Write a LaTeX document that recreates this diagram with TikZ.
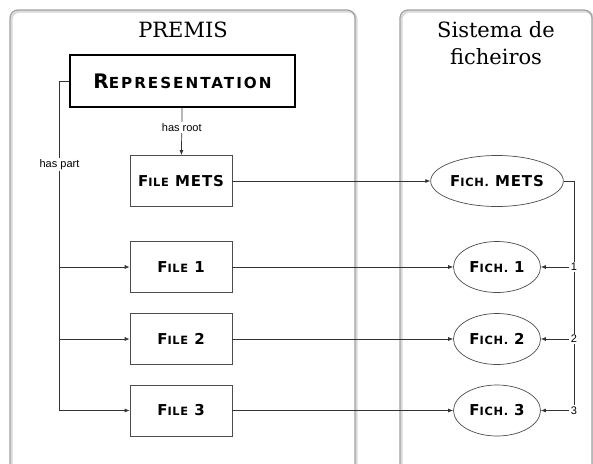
\documentclass[tikz,border=0pt]{standalone}
\usepackage{fontspec}
\usetikzlibrary{arrows.meta,shapes.geometric}
\newfontfamily\titlefont{DejaVu Serif}
\newfontfamily\capsfont[LetterSpace=6]{DejaVu Sans}
\newfontfamily\labelfont{Liberation Sans}
% first letter large, the rest as small capitals
\newcommand\capsword[2]{#1\scalebox{0.76}{#2}}
\tikzset{
% Two panels, and the boxes and ellipses inside them
panel/.style={draw=gray!75, line width=1.2pt, rounded corners=8pt},
panel shadow/.style={draw=gray!30, line width=2.2pt, rounded corners=8pt},
title/.style={font=\titlefont\fontsize{21}{27}\selectfont, align=center},
rep node/.style={rectangle, draw, line width=1.3pt, minimum width=225pt, minimum height=52pt, font=\capsfont\addfontfeature{LetterSpace=13}\bfseries\fontsize{20}{20}\selectfont},
file node/.style={rectangle, draw=black!70, line width=0.7pt, minimum width=102pt, minimum height=51pt, font=\capsfont\bfseries\fontsize{15}{15}\selectfont},
fich node/.style={ellipse, draw=black!70, line width=0.7pt, minimum width=87pt, minimum height=51pt, inner sep=0pt, font=\capsfont\bfseries\fontsize{15}{15}\selectfont},
link label/.style={fill=white, inner sep=1.5pt, font=\labelfont\fontsize{11}{12}\selectfont},
link/.style={draw=black!80, line width=0.7pt},
arrow/.style={link, -{Latex[length=5pt,width=4pt]}}
}

\begin{document}
\begin{tikzpicture}[x=1pt, y=-1pt]
\clip (0,0) rectangle (593,463);

% panels
\draw[panel shadow] (11.5,11.5) rectangle (356.5,490);
\draw[panel shadow] (401.5,11.5) rectangle (593.5,490);
\draw[panel] (10,10) rectangle (355,490);
\draw[panel] (400,10) rectangle (592,490);
\node[title] (premis) at (183,30) {PREMIS};
\node[title] (sistema) at (496,43) {Sistema de\\ficheiros};

% PREMIS side
\node[rep node] (rep) at (182.5,81) {\capsword{R}{EPRESENTATION}};
\node[file node] (mets) at (181,181) {\capsword{F}{ILE} METS};
\node[file node] (file1) at (181,267) {\capsword{F}{ILE} 1};
\node[file node] (file2) at (181,339) {\capsword{F}{ILE} 2};
\node[file node] (file3) at (181,410.5) {\capsword{F}{ILE} 3};

% file system side
\node[fich node, minimum width=132pt] (fmets) at (497,181) {\capsword{F}{ICH.} METS};
\node[fich node] (fich1) at (497,267) {\capsword{F}{ICH.} 1};
\node[fich node] (fich2) at (497,339) {\capsword{F}{ICH.} 2};
\node[fich node] (fich3) at (497,410.5) {\capsword{F}{ICH.} 3};

% has root / has part
\draw[arrow] (rep) -- node[link label, pos=0.42] {has root} (mets);
\coordinate (hp1) at (59.5,267);
\coordinate (hp2) at (59.5,339);
\coordinate (hp3) at (59.5,410.5);
\draw[link] (rep.west) -| node[link label, pos=0.627] {has part} (hp3);
\foreach \i in {1,2,3}
    \draw[arrow] (hp\i) -- (file\i);

% files to ficheiros
\draw[arrow] (mets) -- (fmets);
\foreach \i in {1,2,3}
    \draw[arrow] (file\i) -- (fich\i);

% order of the files
\coordinate (nr3) at (574,410.5);
\draw[link] (fmets.east) -| (nr3);
\node[link label] (n1) at (574,267) {1};
\node[link label] (n2) at (574,339) {2};
\node[link label] (n3) at (574,410.5) {3};
\foreach \i in {1,2,3}
    \draw[arrow] (n\i) -- (fich\i);
\end{tikzpicture}
\end{document}
